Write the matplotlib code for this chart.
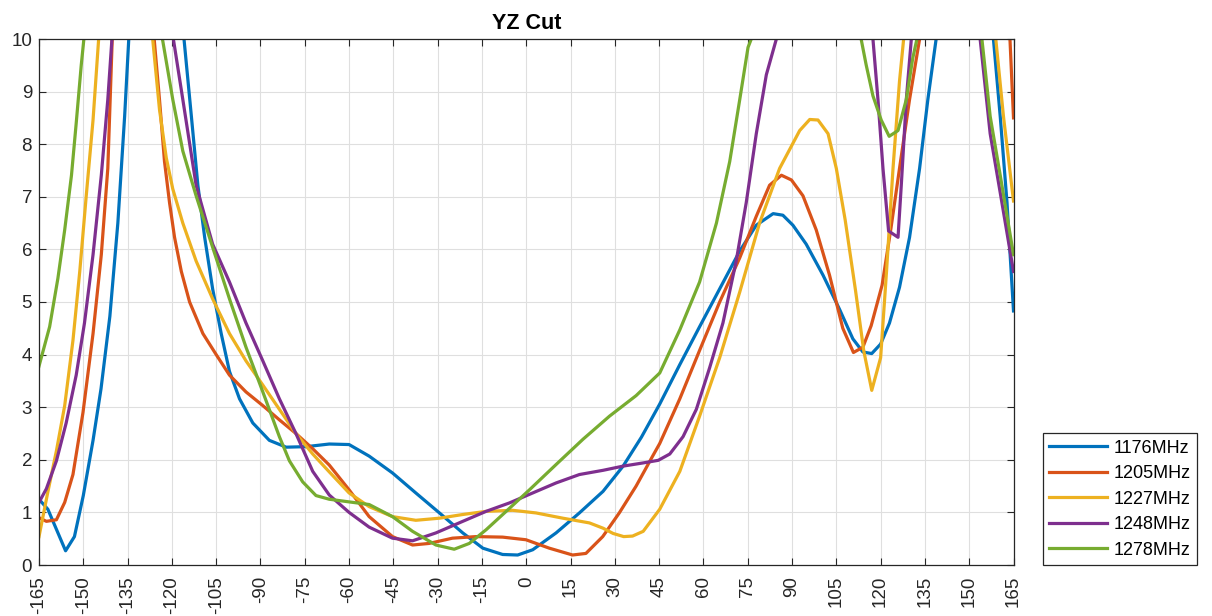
import matplotlib
matplotlib.use("Agg")
import matplotlib.pyplot as plt

plt.rcParams['font.family'] = ['Liberation Sans', 'DejaVu Sans']
plt.rcParams['axes.unicode_minus'] = False

labels = ['1176MHz', '1205MHz', '1227MHz', '1248MHz', '1278MHz']
colors = ['#0072BD', '#D95319', '#EDB120', '#7E2F8E', '#77AC30']

ang_1176 = [-165, -162, -156, -153, -150, -146.7, -144, -141, -138.3, -136, -134.6, -125, -115.9,
            -113.4, -111.2, -108.9, -106.2, -103.3, -100.5, -97.1, -92.6, -87, -81.3, -74.5, -66.7,
            -60, -53.2, -45.3, -37.4, -29.4, -21.5, -14.7, -8, -2.9, 2.2, 10.1, 18, 26, 32.8, 39,
            45.2, 52, 58.7, 65.5, 72.3, 77.9, 83.6, 86.9, 90.3, 94.8, 100.5, 106.1, 110.6, 114, 117,
            120, 123, 126.4, 129.8, 133.2, 136, 138.8, 149, 158.2, 160.5, 162.8, 165]
val_1176 = [1.25, 1.06, 0.27, 0.54, 1.32, 2.37, 3.35, 4.73, 6.5, 8.53, 10, 20, 10,
            8.53, 7.22, 6.23, 5.25, 4.4, 3.68, 3.16, 2.7, 2.37, 2.24, 2.25, 2.3,
            2.29, 2.07, 1.75, 1.37, 0.99, 0.61, 0.32, 0.2, 0.19, 0.29, 0.61, 0.99, 1.4, 1.88, 2.43,
            3.06, 3.81, 4.53, 5.25, 5.97, 6.46, 6.68, 6.65, 6.46, 6.1, 5.51, 4.86, 4.3, 4.05, 4.02,
            4.2, 4.6, 5.28, 6.23, 7.54, 8.85, 10, 20, 10, 8.53, 6.89, 4.83]

ang_1205 = [-165, -162.5, -159.1, -156.3, -153.5, -150.1, -146.7, -143.9, -141.7, -140.2, -133, -126,
            -124.2, -122.5, -120.8, -119.1, -116.8, -114, -109.5, -105, -100.5, -94.9, -89.2, -83.6,
            -78, -72.3, -66.7, -60, -53.2, -45.3, -38.5, -32.9, -25, -17, -8, -0.1, 7.8, 15.7, 20.2,
            25.9, 31.5, 37.2, 42.8, 45.2, 52, 58.7, 65.5, 72.3, 77.9, 82.4, 86.4, 89.8, 93.7, 98.2,
            102.7, 107.2, 110.8, 114, 116.8, 120.5, 123.5, 126.4, 129.8, 133.2, 148, 163.8, 165]
val_1205 = [0.9, 0.83, 0.86, 1.19, 1.72, 2.9, 4.4, 5.9, 7.54, 10, 20, 10,
            8.85, 7.67, 6.89, 6.23, 5.58, 5.0, 4.4, 4.0, 3.61, 3.29, 3.03, 2.76,
            2.5, 2.21, 1.9, 1.43, 0.92, 0.54, 0.38, 0.41, 0.51, 0.54, 0.53, 0.48, 0.32, 0.19, 0.22,
            0.54, 0.99, 1.5, 2.07, 2.31, 3.16, 4.08, 5.0, 5.84, 6.63, 7.22, 7.41, 7.32, 7.02, 6.37,
            5.51, 4.5, 4.04, 4.14, 4.55, 5.32, 6.4, 7.54, 8.85, 10, 25, 10, 8.5]

ang_1227 = [-165, -162, -159.1, -156.3, -153.5, -151.2, -149, -146.7, -144.8, -135, -126.5, -124.2,
            -121.9, -119.7, -116.3, -111.8, -106.2, -100.5, -94.9, -89.2, -83.6, -78, -72.3, -66.7,
            -60, -53.2, -45.3, -37.4, -29.4, -21.5, -13.6, -4.6, 3.3, 12.4, 21.4, 26, 29.4, 33, 36,
            39.6, 45.2, 52, 58.7, 65.5, 72.3, 79, 85.8, 92.6, 96, 98.8, 102.2, 105, 108, 111.5,
            114.3, 117, 120, 122, 124.2, 126.4, 127.8, 145, 159, 161.6, 165]
val_1227 = [0.54, 1.39, 2.17, 3.03, 4.27, 5.58, 7.02, 8.46, 10, 20, 10, 8.66,
            7.74, 7.15, 6.5, 5.78, 5.06, 4.4, 3.88, 3.42, 2.96, 2.5, 2.11, 1.77,
            1.37, 1.11, 0.92, 0.85, 0.89, 0.96, 1.02, 1.04, 0.99, 0.89, 0.8, 0.7, 0.6, 0.54, 0.55,
            0.64, 1.06, 1.78, 2.83, 3.94, 5.19, 6.5, 7.54, 8.26, 8.47, 8.46, 8.2, 7.54, 6.56, 5.22,
            4.07, 3.32, 3.94, 5.58, 7.54, 9.2, 10, 25, 10, 8.53, 6.92]

ang_1248 = [-165, -162.5, -159.1, -155.8, -152.4, -149.6, -146.7, -143.9, -141.7, -140.3, -130,
            -119.5, -116.3, -111.8, -106.2, -100.5, -94.9, -89.2, -83.6, -78, -72.3, -66.7, -60,
            -53.2, -45.3, -38.5, -30.6, -21.5, -13.6, -5.7, 2.2, 10.1, 18, 26, 32.8, 39.5, 44.7,
            48.6, 53.1, 57.6, 62.1, 66.6, 71.1, 74.5, 77.9, 81.3, 84.7, 100, 117.4, 119.1, 120.8,
            122.7, 125.9, 127, 128.7, 130.4, 142, 153.7, 157.1, 160.5, 165]
val_1248 = [1.19, 1.45, 1.98, 2.7, 3.61, 4.6, 5.9, 7.41, 8.85, 10, 20,
            10, 8.85, 7.22, 6.1, 5.38, 4.6, 3.88, 3.16, 2.5, 1.78, 1.33, 1.0,
            0.72, 0.51, 0.46, 0.61, 0.83, 1.02, 1.18, 1.37, 1.56, 1.72, 1.8, 1.88, 1.94, 1.99,
            2.11, 2.44, 2.96, 3.75, 4.6, 5.78, 6.89, 8.2, 9.32, 10, 25, 10, 8.85, 7.54,
            6.35, 6.23, 7.22, 8.85, 10, 25, 10, 8.2, 7.08, 5.58]

ang_1278 = [-165, -161.4, -158.6, -156.3, -154, -152.4, -150.7, -149.8, -136, -123.2, -119.7, -116.3,
            -111.8, -106.2, -100.5, -94.9, -89.2, -83.6, -80.2, -75.7, -71.2, -66.7, -60, -53.2,
            -45.3, -38.5, -30.6, -24.4, -19.3, -13.6, -6.8, 1.1, 10.1, 19.2, 28.2, 37.2, 45.2, 52,
            58.7, 64.4, 68.9, 72.3, 75.1, 76.2, 95, 113.4, 115.1, 117.4, 120.2, 122.9, 125.9, 128.7,
            130.9, 132.3, 143, 154.3, 157.1, 160.5, 165]
val_1278 = [3.78, 4.53, 5.45, 6.37, 7.41, 8.4, 9.5, 10, 20, 10, 8.85, 7.87,
            7.02, 6.04, 5.06, 4.14, 3.29, 2.44, 1.98, 1.58, 1.32, 1.25, 1.2, 1.15,
            0.92, 0.64, 0.38, 0.3, 0.41, 0.67, 1.02, 1.43, 1.91, 2.39, 2.83, 3.22, 3.65, 4.47,
            5.38, 6.5, 7.67, 8.85, 9.84, 10, 25, 10, 9.51, 8.92, 8.46, 8.15, 8.26, 8.85,
            9.64, 10, 25, 10, 8.53, 7.41, 5.9]

angles = [ang_1176, ang_1205, ang_1227, ang_1248, ang_1278]
values = [val_1176, val_1205, val_1227, val_1248, val_1278]

xticks = list(range(-165, 166, 15))
yticks = list(range(0, 11))

W, H = 1212, 616
fig = plt.figure(figsize=(W / 100, H / 100), dpi=100)
L, R, T, B = 39, 1013.5, 39, 565
ax = fig.add_axes([L / W, (H - B) / H, (R - L) / W, (B - T) / H])

for a, v, c, lab in zip(angles, values, colors, labels):
    ax.plot(a, v, color=c, lw=2.3, label=lab, solid_joinstyle='round')

ax.set_xlim(-165, 165)
ax.set_ylim(0, 10)
ax.set_xticks(xticks)
ax.set_xticklabels([str(t) for t in xticks], rotation=90)
ax.set_yticks(yticks)
ax.grid(True, color='#dfdfdf', lw=0.8)
ax.set_axisbelow(True)
for s in ax.spines.values():
    s.set_color('#262626')
    s.set_linewidth(0.9)
ax.tick_params(axis='both', direction='in', length=5, width=0.8, color='#262626',
               labelcolor='#262626', labelsize=13.5, top=True, right=True)
ax.tick_params(axis='x', pad=8)
ax.tick_params(axis='y', pad=5)

ax.set_title('YZ Cut', fontsize=15.5, fontweight='bold', pad=7, color='#000000')

leg = ax.legend(loc='lower left', bbox_to_anchor=(1042.7 / W, (H - 565) / H),
                bbox_transform=fig.transFigure, borderaxespad=0, fontsize=13,
                frameon=True, fancybox=False, framealpha=1, edgecolor='#262626',
                handlelength=3.2, handletextpad=0.4, borderpad=0.35, labelspacing=0.47)
leg.get_frame().set_linewidth(0.9)

fig.savefig('out.png', dpi=100)
